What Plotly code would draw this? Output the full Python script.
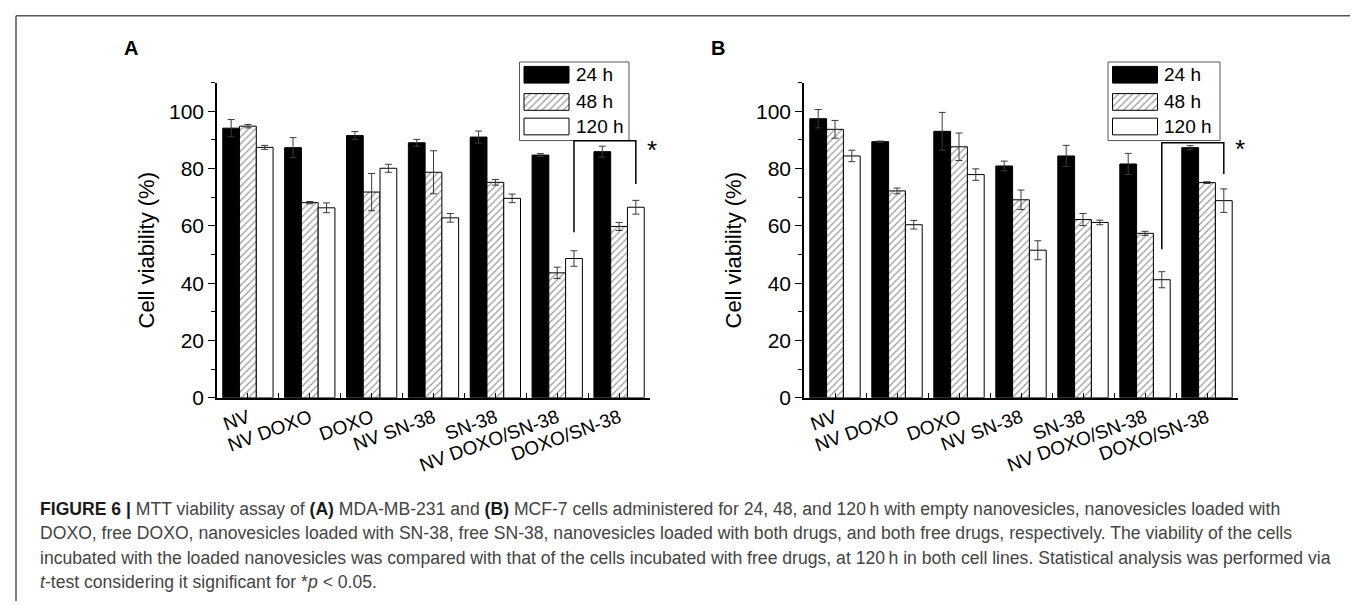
import plotly.graph_objects as go

W, H = 1358, 604

categories = ["NV", "NV DOXO", "DOXO", "NV SN-38", "SN-38", "NV DOXO/SN-38", "DOXO/SN-38"]
series_names = ["24 h", "48 h", "120 h"]

# Panel A (MDA-MB-231)
a_24 = [94.1, 87.3, 91.5, 89.0, 91.0, 84.7, 85.9]
a_24_err = [3.0, 3.5, 1.4, 1.2, 2.1, 0.5, 1.9]
a_48 = [94.8, 68.1, 71.8, 78.7, 75.2, 43.6, 59.8]
a_48_err = [0.6, 0.4, 6.5, 7.5, 1.0, 2.0, 1.4]
a_120 = [87.4, 66.3, 80.1, 62.8, 69.6, 48.6, 66.5]
a_120_err = [0.7, 1.7, 1.4, 1.5, 1.5, 2.7, 2.4]

# Panel B (MCF-7)
b_24 = [97.4, 89.4, 93.0, 80.9, 84.4, 81.6, 87.3]
b_24_err = [3.2, 0.2, 6.6, 1.7, 3.7, 3.7, 0.7]
b_48 = [93.7, 72.2, 87.6, 69.1, 62.2, 57.4, 75.1]
b_48_err = [3.1, 1.0, 4.8, 3.4, 2.1, 0.7, 0.3]
b_120 = [84.4, 60.4, 77.9, 51.5, 61.2, 41.2, 68.8]
b_120_err = [2.0, 1.5, 2.0, 3.3, 0.8, 2.8, 4.1]

y_ticks = [0, 20, 40, 60, 80, 100]

# significance brackets: [left leg bottom, top, right leg bottom]
a_bracket = [57.8, 89.7, 74.6]
b_bracket = [51.8, 89.0, 78.1]
star_y = [86.6, 87.0]

caption_lines = [
    "<b><span style='color:#1a1a1a'>FIGURE 6 |</span></b> MTT viability assay of <b><span style='color:#1a1a1a'>(A)</span></b> MDA-MB-231 and <b><span style='color:#1a1a1a'>(B)</span></b> MCF-7 cells administered for 24, 48, and 120\u2009h with empty nanovesicles, nanovesicles loaded with",
    "DOXO, free DOXO, nanovesicles loaded with SN-38, free SN-38, nanovesicles loaded with both drugs, and both free drugs, respectively. The viability of the cells",
    "incubated with the loaded nanovesicles was compared with that of the cells incubated with free drugs, at 120\u2009h in both cell lines. Statistical analysis was performed via",
    "<i>t</i>-test considering it significant for *<i>p</i> &lt; 0.05.",
]

FONT = "Liberation Sans, Arial, Helvetica, sans-serif"
CAP_FONT = "Liberation Sans, Arial, Helvetica, sans-serif"
BARGAP = 0.187
BW = (1 - BARGAP) / 3


def px(x):
    return x / W


def py(y):
    return 1 - y / H


styles = [
    dict(color="black", pattern=None),
    dict(color="white", pattern=dict(shape="/", fgcolor="#333", bgcolor="white", size=5, solidity=0.25)),
    dict(color="white", pattern=None),
]

fig = go.Figure()
xs = list(range(len(categories)))

panels = [
    ("x", "y", [a_24, a_48, a_120], [a_24_err, a_48_err, a_120_err]),
    ("x2", "y2", [b_24, b_48, b_120], [b_24_err, b_48_err, b_120_err]),
]
for xa, ya, vals, errs in panels:
    for k in range(3):
        marker = dict(color=styles[k]["color"], line=dict(color="black", width=1))
        if styles[k]["pattern"]:
            marker["pattern"] = styles[k]["pattern"]
        fig.add_trace(go.Bar(
            x=xs, y=vals[k], name=series_names[k], xaxis=xa, yaxis=ya,
            marker=marker, showlegend=False, offsetgroup=str(k),
            error_y=dict(type="data", array=errs[k], visible=True, color="#3a3a3a", thickness=1, width=3.5),
        ))

# manual legends (swatches as horizontal bars on helper axes)
leg_rows = [13, 40.7, 65.7]
for xa, ya in [("x3", "y3"), ("x4", "y4")]:
    for k in range(3):
        marker = dict(color=styles[k]["color"], line=dict(color="black", width=1))
        if styles[k]["pattern"]:
            marker["pattern"] = styles[k]["pattern"]
        fig.add_trace(go.Bar(
            y=[leg_rows[k]], x=[45], base=[4.5], orientation="h", width=[17],
            xaxis=xa, yaxis=ya, marker=marker, showlegend=False, hoverinfo="skip",
        ))

ydom = [py(397), py(76)]
xaxis_common = dict(
    range=[-0.5, 6.5], tickmode="array", tickvals=xs, ticktext=categories,
    tickangle=-20, ticks="inside", ticklen=5, tickwidth=1, tickcolor="black",
    minor=dict(ticks="inside", ticklen=5, tickwidth=1, tickcolor="black", tickmode="array",
               tickvals=[i + 0.5 for i in range(-1, 7)]),
    showline=True, linecolor="black", linewidth=1.5, showgrid=False, zeroline=False,
    tickfont=dict(family=FONT, size=19, color="black"), fixedrange=True,
)
yaxis_common = dict(
    range=[0, 110], tickmode="array", tickvals=y_ticks, ticks="outside", ticklen=7, tickwidth=1,
    tickcolor="black",
    minor=dict(ticks="outside", ticklen=4, tickwidth=1, tickcolor="black", tickmode="array",
               tickvals=[10, 30, 50, 70, 90, 110]),
    showline=True, linecolor="black", linewidth=1.5, showgrid=False, zeroline=False,
    tickfont=dict(family=FONT, size=21, color="black"), fixedrange=True,
)
hidden = dict(visible=False, showgrid=False, zeroline=False, fixedrange=True)

fig.update_layout(
    width=W, height=H, margin=dict(l=0, r=0, t=0, b=0),
    paper_bgcolor="white", plot_bgcolor="rgba(0,0,0,0)",
    barmode="group", bargap=BARGAP, bargroupgap=0,
    showlegend=False,
    xaxis=dict(domain=[px(209), px(642)], anchor="y", **xaxis_common),
    yaxis=dict(domain=ydom, anchor="x", **yaxis_common),
    xaxis2=dict(domain=[px(796), px(1230)], anchor="y2", **xaxis_common),
    yaxis2=dict(domain=ydom, anchor="x2", **yaxis_common),
    xaxis3=dict(domain=[px(511.5), px(621)], anchor="y3", range=[0, 109.5], **hidden),
    yaxis3=dict(domain=[py(135), py(55)], anchor="x3", range=[80, 0], **hidden),
    xaxis4=dict(domain=[px(1100), px(1212)], anchor="y4", range=[0, 112], **hidden),
    yaxis4=dict(domain=[py(135), py(55)], anchor="x4", range=[80, 0], **hidden),
)

shapes = []
annotations = []

# outer frame
for (x0, y0, x1, y1) in [(8, 8, 1356, 8), (8, 8, 8, 604), (1356, 8, 1356, 604)]:
    shapes.append(dict(type="line", xref="paper", yref="paper", x0=px(x0), y0=py(y0), x1=px(x1), y1=py(y1),
                       line=dict(color="#555", width=1.5)))

# legend boxes and texts
for (lx0, lx1, tx) in [(511.5, 621, 566), (1100, 1212, 1154)]:
    shapes.append(dict(type="rect", xref="paper", yref="paper", x0=px(lx0), x1=px(lx1), y0=py(135), y1=py(55),
                       line=dict(color="#555", width=1), fillcolor="rgba(0,0,0,0)"))
    for k in range(3):
        annotations.append(dict(xref="paper", yref="paper", x=px(tx), y=py(55 + leg_rows[k]), text=series_names[k],
                                showarrow=False, xanchor="left", yanchor="middle",
                                font=dict(family=FONT, size=19, color="black")))

# brackets and stars
off = BW
for (xa, ya, br, sy) in [("x", "y", a_bracket, star_y[0]), ("x2", "y2", b_bracket, star_y[1])]:
    xl = 5 + off
    xr = 6 + off
    shapes.append(dict(type="path", xref=xa, yref=ya,
                       path=f"M {xl},{br[0]} L {xl},{br[1]} L {xr},{br[1]} L {xr},{br[2]}",
                       line=dict(color="black", width=1.5)))
    annotations.append(dict(xref=xa, yref=ya, x=6.42, y=sy, text="*", showarrow=False,
                            xanchor="left", yanchor="middle", font=dict(family=FONT, size=26, color="black")))

# y axis titles
for xpos in [139, 726]:
    annotations.append(dict(xref="paper", yref="paper", x=px(xpos), y=py(247), text="Cell viability (%)",
                            textangle=-90, showarrow=False, xanchor="center", yanchor="middle",
                            font=dict(family=FONT, size=22, color="black")))

# panel letters
for (lx, letter) in [(123, "A"), (710, "B")]:
    annotations.append(dict(xref="paper", yref="paper", x=px(lx), y=py(41), text=f"<b>{letter}</b>",
                            showarrow=False, xanchor="center", yanchor="middle",
                            font=dict(family=FONT, size=20, color="black")))

# caption
for i, line in enumerate(caption_lines):
    annotations.append(dict(xref="paper", yref="paper", x=px(30), y=py(510 + 25 * i), text=line,
                            showarrow=False, xanchor="left", yanchor="middle", align="left",
                            font=dict(family=CAP_FONT, size=17.6, color="#444")))

fig.update_layout(shapes=shapes, annotations=annotations)
fig.write_html("out.html")
